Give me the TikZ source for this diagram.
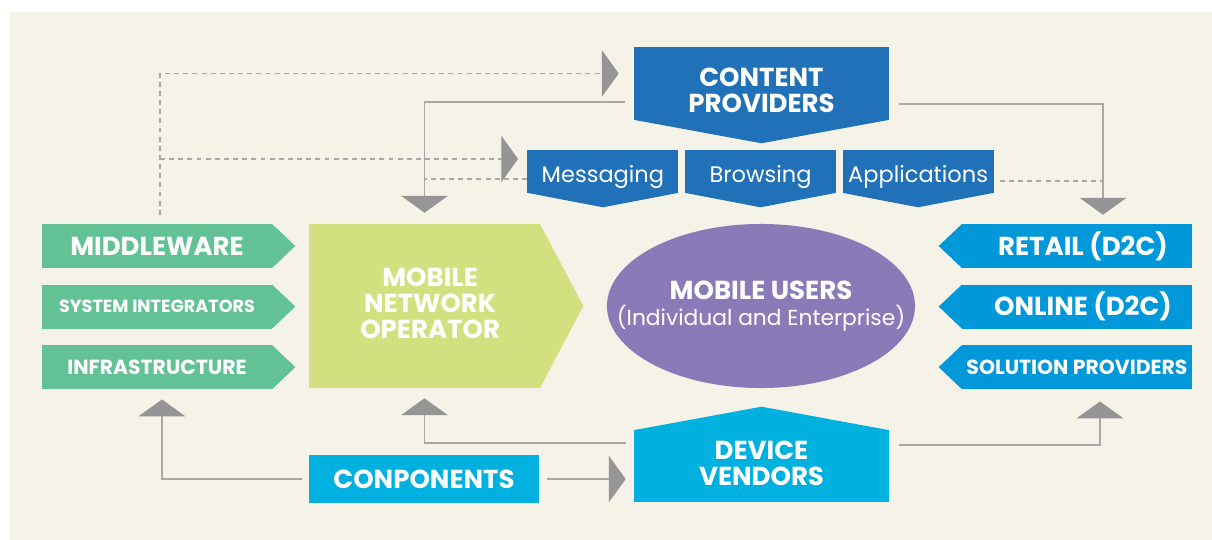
\documentclass[tikz,border=0pt]{standalone}
\usepackage{fontspec}
\setmainfont{Poppins}
\usetikzlibrary{positioning, calc, arrows.meta, shapes.geometric}

\definecolor{panelbg}{HTML}{F5F3E7}
\definecolor{cpblue}{HTML}{2171B9}
\definecolor{midgreen}{HTML}{63C295}
\definecolor{lime}{HTML}{D3E07F}
\definecolor{userpurple}{HTML}{8A7BB8}
\definecolor{retailblue}{HTML}{0098D8}
\definecolor{devcyan}{HTML}{00B0DE}
\definecolor{linegray}{HTML}{A8A8A8}
\definecolor{tipgray}{HTML}{959595}

\begin{document}
\begin{tikzpicture}[
        x=0.025cm, y=-0.025cm,
        node distance=0.4cm,
        bigtext/.style={font=\bfseries\fontsize{18.5}{18.7}\selectfont},
        smalltext/.style={font=\bfseries\fontsize{14.5}{15}\selectfont},
        shapebase/.style={rectangle, inner sep=0pt, text=white, align=center},
        greenbox/.style={shapebase, fill=midgreen, minimum width=5.75cm, minimum height=1.1cm},
        bluebox/.style={shapebase, fill=retailblue, minimum width=5.75cm, minimum height=1.1cm},
        contentbox/.style={shapebase, fill=cpblue, minimum width=3.775cm, minimum height=1.075cm, font=\fontsize{16}{17}\selectfont, execute at begin node={\rule{0pt}{20.3pt}}},
        conn/.style={draw=linegray, line width=1pt},
        dashconn/.style={conn, dash pattern=on 3.5pt off 3pt},
        headtip/.style={-{Triangle[width=1.16cm, length=0.42cm, color=tipgray]}}
    ]
        % Panel
        \fill[white] (0,0) rectangle (1212,540);
        \fill[panelbg] (10,12) rectangle (1212,540);
        \useasboundingbox (0,0) rectangle (1212,540);

        % Content providers
        \node (cp) [shapebase, fill=cpblue, minimum width=6.375cm, minimum height=1.825cm, bigtext] at (761.5,83.5) {\rule{0pt}{22.5pt}CONTENT\\PROVIDERS};
        \fill[cpblue] ($(cp.south west)+(0,-0.5)$) -- ($(cp.south)+(0,23)$) -- ($(cp.south east)+(0,-0.5)$) -- cycle;

        % Content types
        \node (brw) [contentbox] at (760.5,171.5) {Browsing};
        \node (msg) [contentbox, left=0.15cm of brw] {Messaging};
        \node (app) [contentbox, right=0.15cm of brw] {Applications};
        \foreach \n in {msg,brw,app}
            \fill[cpblue] ($(\n.south west)+(0,-0.5)$) -- ($(\n.south)+(0,14)$) -- ($(\n.south east)+(0,-0.5)$) -- cycle;

        % Suppliers (left)
        \node (mw) [greenbox, bigtext] at (157,246) {MIDDLEWARE};
        \node (si) [greenbox, smalltext, font=\bfseries\fontsize{12.5}{15}\selectfont, below=of mw] {SYSTEM INTEGRATORS};
        \node (infra) [greenbox, smalltext, below=of si] {INFRASTRUCTURE};
        \foreach \n in {mw,si,infra}
            \fill[midgreen] ($(\n.north east)+(-0.5,0)$) -- ($(\n.east)+(23,0)$) -- ($(\n.south east)+(-0.5,0)$) -- cycle;

        % Operator
        \node (mno) [shapebase, fill=lime, minimum width=5.775cm, minimum height=4.1cm, bigtext] at (424.5,306) {\hspace*{8pt}MOBILE\\\hspace*{8pt}NETWORK\\\hspace*{8pt}OPERATOR\rule[-4.2pt]{0pt}{4.2pt}};
        \fill[lime] ($(mno.north east)+(-0.5,0)$) -- ($(mno.east)+(43,0)$) -- ($(mno.south east)+(-0.5,0)$) -- cycle;

        % Users
        \node (users) [ellipse, fill=userpurple, minimum width=7.7cm, minimum height=4.1cm, inner sep=0pt, text=white, align=center, font=\fontsize{15.5}{19}\selectfont] at (761,306) {\makebox[0pt]{\bfseries\fontsize{18.5}{19}\selectfont MOBILE USERS}\\\makebox[0pt]{(Individual and Enterprise)}};

        % Channels (right)
        \node (retail) [bluebox, bigtext] at (1077,246) {\hspace*{8.5pt}RETAIL (D2C)};
        \node (online) [bluebox, bigtext, below=of retail] {\hspace*{8.5pt}ONLINE (D2C)};
        \node (sol) [bluebox, smalltext, below=of online] {SOLUTION PROVIDERS};
        \foreach \n in {retail,online,sol}
            \fill[retailblue] ($(\n.north west)+(0.5,0)$) -- ($(\n.west)+(-23,0)$) -- ($(\n.south west)+(0.5,0)$) -- cycle;

        % Devices
        \node (dv) [shapebase, fill=devcyan, minimum width=6.375cm, minimum height=1.8cm, bigtext] at (761.5,466) {DEVICE\\VENDORS\rule[-3.5pt]{0pt}{3.5pt}};
        \fill[devcyan] ($(dv.north west)+(0,0.5)$) -- ($(dv.north)+(0,-23)$) -- ($(dv.north east)+(0,0.5)$) -- cycle;
        \node (comp) [shapebase, fill=devcyan, minimum width=5.75cm, minimum height=1.2cm, bigtext] at (424,479) {CONPONENTS};

        % Dashed feeds
        \coordinate (mwtop) at ($(mw.north)+(3,-9)$);
        \draw[dashconn, headtip, shorten >=0.375cm] (mwtop) |- ($(cp.west)+(0,-10)$);
        \draw[dashconn, headtip, shorten >=0.225cm] ($(mwtop |- msg.west)+(0,-12.5)$) -- ($(msg.west)+(0,-12.5)$);
        \draw[dashconn] ($(msg.west)+(0,7.5)$) -- ($(mno.north |- msg.west)+(0,7.5)$);
        \draw[dashconn] ($(app.east)+(6,9.5)$) -- ($(retail.north |- app.east)+(26,9.5)$);

        % Solid flows
        \draw[conn, headtip, shorten >=0.275cm] ($(cp.west)+(-9,18.5)$) -| (mno.north);
        \draw[conn, headtip, shorten >=0.225cm] ($(cp.east)+(10,20.5)$) -| ($(retail.north)+(26,0)$);
        \draw[conn, headtip, shorten >=0.25cm] ($(comp.west)+(-7,0)$) -| ($(infra.south)+(5,0)$);
        \draw[conn, headtip, shorten >=0.25cm] ($(dv.west)+(-8,-23)$) -| (mno.south);
        \draw[conn, headtip, shorten >=0.2cm] ($(comp.east)+(8,0)$) -- (comp.east -| dv.west);
        \draw[conn, headtip, shorten >=0.3cm] ($(dv.east)+(10,-21)$) -| ($(sol.south)+(23,0)$);
    \end{tikzpicture}
\end{document}
